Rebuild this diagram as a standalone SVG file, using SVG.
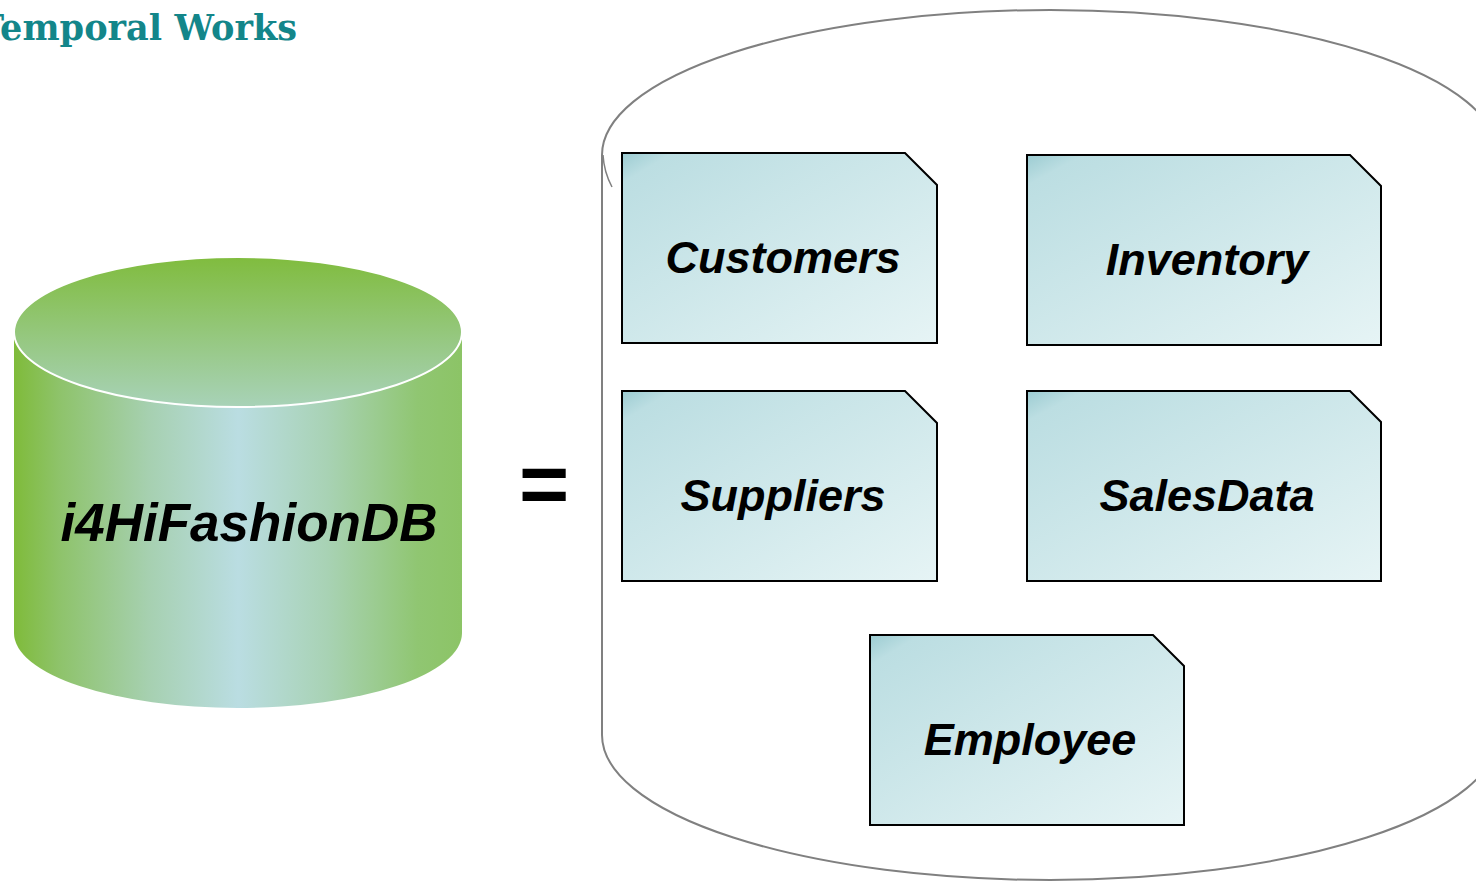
<svg xmlns="http://www.w3.org/2000/svg" width="1476" height="881" viewBox="0 0 1476 881">
<defs>
<linearGradient id="body" x1="0" y1="0" x2="1" y2="0">
<stop offset="0" stop-color="#7FBB3A"/>
<stop offset="0.1" stop-color="#8EC36A"/>
<stop offset="0.3" stop-color="#A6D0B0"/>
<stop offset="0.5" stop-color="#BADDE2"/>
<stop offset="0.7" stop-color="#A8D2B4"/>
<stop offset="0.9" stop-color="#90C672"/>
<stop offset="1" stop-color="#8CC466"/>
</linearGradient>
<linearGradient id="top" x1="0" y1="0" x2="0" y2="1">
<stop offset="0" stop-color="#80BC3E"/>
<stop offset="1" stop-color="#A8D2B8"/>
</linearGradient>
<linearGradient id="box" x1="0" y1="0" x2="1" y2="1">
<stop offset="0" stop-color="#9CCCD2"/>
<stop offset="0.08" stop-color="#BCDEE2"/>
<stop offset="1" stop-color="#E6F4F5"/>
</linearGradient>
<style>
.box{fill:url(#box);stroke:#000;stroke-width:2}
.lbl{font-family:"Liberation Sans",Arial,sans-serif;font-weight:bold;font-style:italic;font-size:45px;fill:#000;text-anchor:middle}
</style>
</defs>
<rect width="1476" height="881" fill="#fff"/>
<text x="-22" y="40" font-family="'DejaVu Serif',serif" font-weight="bold" font-size="35" fill="#13868A" textLength="319" lengthAdjust="spacingAndGlyphs">Temporal Works</text>
<g id="db">
<path d="M14,332 L14,633 A224,75 0 0 0 462,633 L462,332 Z" fill="url(#body)"/>
<ellipse cx="238" cy="332" rx="224" ry="75" fill="url(#top)" stroke="#fff" stroke-width="2"/>
<text class="lbl" x="249" y="541" style="font-size:53px">i4HiFashionDB</text>
</g>
<text x="544" y="513" font-family="'Liberation Sans',Arial,sans-serif" font-weight="bold" font-size="86" text-anchor="middle" fill="#000">=</text>
<g id="container">
<path d="M602,735 L602,155 A448,145 0 0 1 1498,155 L1498,735 A448,145 0 0 1 602,735 Z" fill="#fff" stroke="#808080" stroke-width="2"/>
<path d="M603,155 Q604,172 612,187" fill="none" stroke="#808080" stroke-width="1.5"/>
</g>
<g id="customers">
<path class="box" d="M622,153 L905,153 L937,185 L937,343 L622,343 Z"/>
<text class="lbl" x="783" y="273">Customers</text>
</g>
<g id="inventory">
<path class="box" d="M1027,155 L1350,155 L1381,186 L1381,345 L1027,345 Z"/>
<text class="lbl" x="1207" y="275">Inventory</text>
</g>
<g id="suppliers">
<path class="box" d="M622,391 L905,391 L937,423 L937,581 L622,581 Z"/>
<text class="lbl" x="783" y="511">Suppliers</text>
</g>
<g id="salesdata">
<path class="box" d="M1027,391 L1350,391 L1381,422 L1381,581 L1027,581 Z"/>
<text class="lbl" x="1207" y="511">SalesData</text>
</g>
<g id="employee">
<path class="box" d="M870,635 L1153,635 L1184,666 L1184,825 L870,825 Z"/>
<text class="lbl" x="1030" y="755">Employee</text>
</g>
<g id="connectors"></g>
</svg>
